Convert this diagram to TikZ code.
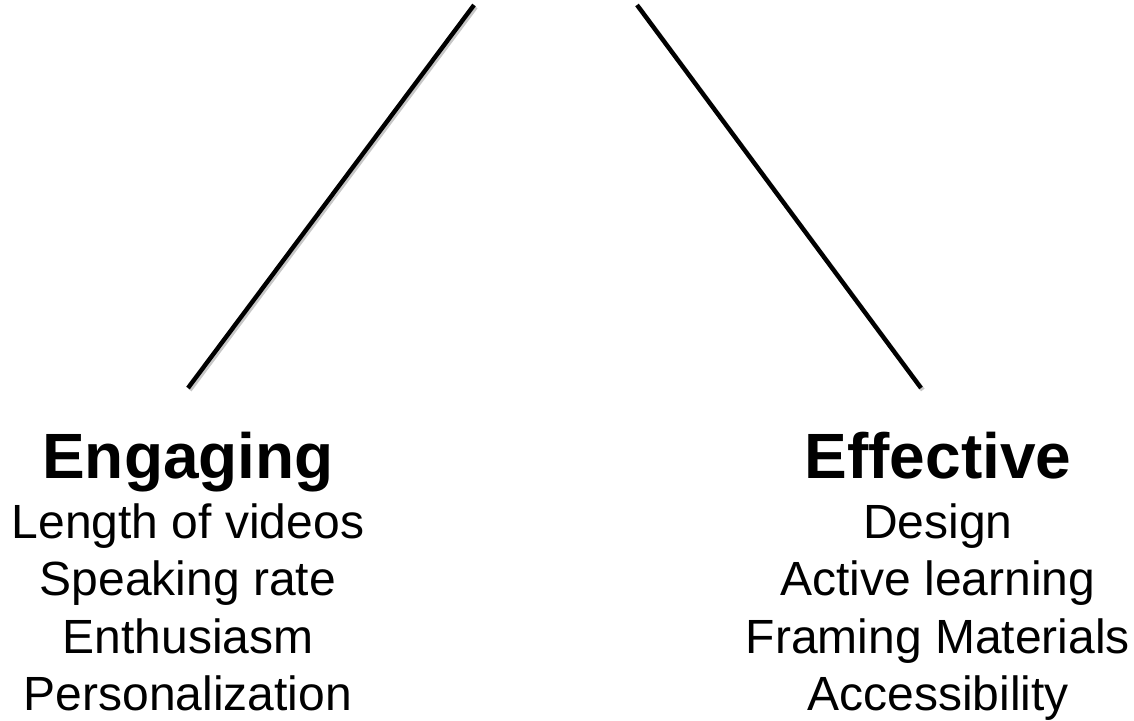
\documentclass[tikz,border=0pt]{standalone}
\usepackage{fontspec}
\setmainfont{Liberation Sans}
\begin{document}
\begin{tikzpicture}[x=1pt,y=-1pt,
  branch/.style={line width=4.4pt, black,
    preaction={draw=black!22, line width=4.4pt,
      transform canvas={shift={(1.8pt,-2pt)}}}},
  heading/.style={font=\fontsize{64}{64}\selectfont\bfseries, inner sep=0pt, anchor=base},
  item/.style={font=\fontsize{48}{48}\selectfont, inner sep=0pt, anchor=base}]
  \useasboundingbox[fill=white] (0,0) rectangle (1134,720);

  % ends of the two branches
  \coordinate (topL) at (474,5);
  \coordinate (topR) at (637,5);
  \coordinate (endL) at (188,388);
  \coordinate (endR) at (921,388);

  \draw[branch] (topL) -- (endL);
  \draw[branch] (topR) -- (endR);

  % left column
  \node[heading] (eng) at (188,478) {Engaging};
  \node[item] (e1) at (188,538) {Length of videos};
  \node[item] (e2) at (188,595) {Speaking rate};
  \node[item] (e3) at (188,653) {Enthusiasm};
  \node[item] (e4) at (188,710) {Personalization};

  % right column
  \node[heading] (eff) at (938,478) {Effective};
  \node[item] (f1) at (938,538) {Design};
  \node[item] (f2) at (938,595) {Active learning};
  \node[item] (f3) at (938,653) {Framing Materials};
  \node[item] (f4) at (938,710) {Accessibility};
\end{tikzpicture}
\end{document}
